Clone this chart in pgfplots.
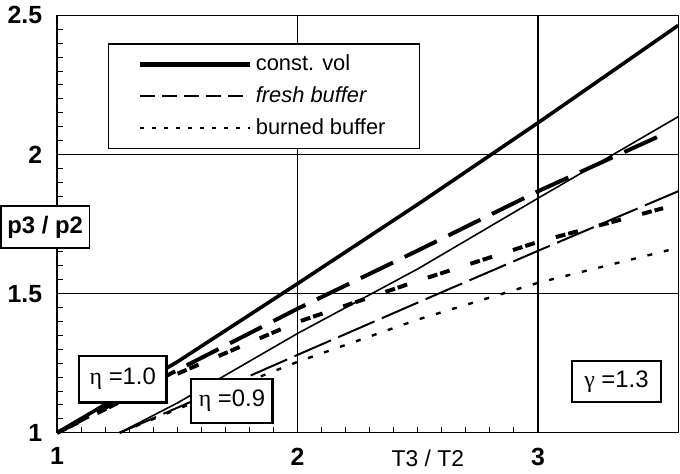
\documentclass[border=0pt]{standalone}
\usepackage{pgfplots}
\pgfplotsset{compat=1.18}
\usepackage{fontspec}
\setmainfont{Liberation Sans}
\newfontfamily\grk{Liberation Serif}

\begin{document}
\begin{tikzpicture}
\begin{axis}[
    scale only axis, width=312.5pt, height=210pt,
    xmin=1, xmax=3.583, ymin=1, ymax=2.5,
    xtick={1,2,3}, ytick={1,1.5,2,2.5},
    minor x tick num=9, minor y tick num=9,
    grid=major, major grid style={black, line width=0.6pt},
    axis line style={black, line width=0.7pt},
    tick align=inside, tick pos=left,
    major tick length=4pt, minor tick length=3pt,
    tick style={black, line width=0.5pt},
    ticklabel style={font=\fontsize{12.5}{14}\selectfont\bfseries},
    /pgf/number format/assume math mode=true,
    xticklabel style={yshift=-4pt},
    yticklabel style={xshift=-4pt},
    clip=false,
    legend style={at={(0.0816,0.933)}, anchor=north west, draw=black,
        line width=0.6pt, fill=white, inner xsep=15pt, inner ysep=3.5pt,
        row sep=2.5pt, font=\fontsize{11}{13}\selectfont},
    legend cell align=left,
    legend image code/.code={\draw[#1] (0pt,0pt) -- (55pt,0pt);},
]
\addlegendimage{black, line width=2.2pt}
\addlegendentry{const. vol}
\addlegendimage{black, line width=1.2pt, dash pattern=on 7.5pt off 3.5pt}
\addlegendentry{\itshape fresh buffer}
\addlegendimage{black, line width=1.2pt, dash pattern=on 2pt off 4pt}
\addlegendentry{burned buffer}

% eta = 1.0
\addplot[black, line width=1.8pt, forget plot] coordinates {
  (1,1) (1.5,1.255) (2,1.536) (2.5,1.821) (3,2.114) (3.583,2.464)};
\addplot[black, line width=2pt, dash pattern=on 18pt off 6.5pt, forget plot] coordinates {
  (1,1) (1.5,1.225) (2,1.446) (2.5,1.655) (3,1.868) (3.537,2.079)};
\addplot[black, line width=2pt, dash pattern=on 5pt off 1.5pt on 5pt off 11pt, forget plot] coordinates {
  (1,1) (1.5,1.212) (2,1.398) (2.5,1.546) (3,1.686) (3.52,1.807)};
% eta = 0.9
\addplot[black, line width=0.8pt, forget plot] coordinates {
  (1.26,1) (1.5,1.107) (2,1.357) (2.5,1.589) (3,1.843) (3.583,2.136)};
\addplot[black, line width=1pt, dash pattern=on 20pt off 4pt, forget plot] coordinates {
  (1.26,1) (1.5,1.09) (2,1.28) (2.5,1.468) (3,1.654) (3.583,1.868)};
\addplot[black, line width=1.2pt, dash pattern=on 2.5pt off 6pt, forget plot] coordinates {
  (1.26,1) (1.5,1.085) (2,1.255) (2.5,1.407) (3,1.539) (3.583,1.665)};

\node[draw, line width=1.2pt, fill=white, minimum width=44pt, minimum height=23.5pt,
  font=\fontsize{12}{14}\selectfont] at (axis cs:1.273,1.193) {{\grk η} =1.0};
\node[draw, line width=1.2pt, fill=white, minimum width=41pt, minimum height=22pt,
  font=\fontsize{12}{14}\selectfont] at (axis cs:1.727,1.114) {{\grk η} =0.9};
\node[draw, line width=1.2pt, fill=white, minimum width=45pt, minimum height=20.5pt,
  font=\fontsize{12}{14}\selectfont] at (axis cs:3.326,1.184) {{\grk γ} =1.3};
\node[draw, line width=0.8pt, fill=white, minimum width=35pt, minimum height=21pt,
  font=\fontsize{12}{14}\selectfont\bfseries] at (rel axis cs:-0.0192,0.493) {p3 / p2};
\node[yshift=-13pt, font=\fontsize{11.5}{13}\selectfont] at (rel axis cs:0.597,0) {T3 / T2};
\end{axis}
\end{tikzpicture}
\end{document}
